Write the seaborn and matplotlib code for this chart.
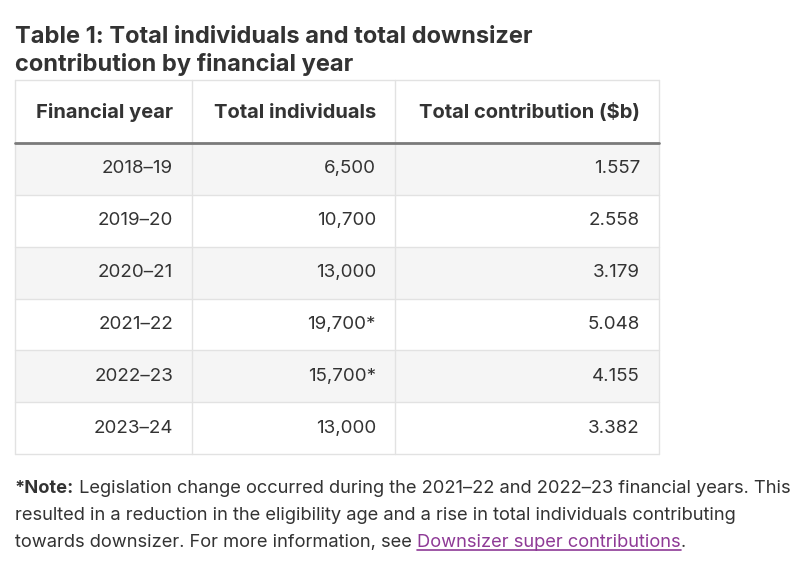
import matplotlib.pyplot as plt
import seaborn as sns
from matplotlib.patches import Rectangle

sns.set_theme(style="white")
plt.rcParams['font.family'] = ['Inter', 'DejaVu Sans']

# table data
headers = ["Financial year", "Total individuals", "Total contribution ($b)"]
years = ["2018–19", "2019–20", "2020–21", "2021–22", "2022–23", "2023–24"]
individuals = ["6,500", "10,700", "13,000", "19,700*", "15,700*", "13,000"]
contributions = [1.557, 2.558, 3.179, 5.048, 4.155, 3.382]

title = "Table 1: Total individuals and total downsizer\ncontribution by financial year"

text_col = "#333333"
grid_col = "#e2e2e2"
stripe = "#f5f5f5"

fig = plt.figure(figsize=(7.95, 5.62), dpi=100)
ax = fig.add_axes([0, 0, 1, 1])
ax.set_xlim(0, 795)
ax.set_ylim(562, 0)
ax.axis("off")

col_edges = [15, 192, 395, 659]
top, head_bot = 80, 143
row_h = (454 - head_bot) / len(years)

# title
t1, t2 = title.split("\n")
ax.text(15, 43, t1, fontsize=17, fontweight="bold", color=text_col, va="baseline")
ax.text(15, 71, t2, fontsize=17, fontweight="bold", color=text_col, va="baseline")

# row backgrounds
for i in range(len(years)):
    y0 = head_bot + i * row_h
    fc = stripe if i % 2 == 0 else "white"
    ax.add_patch(Rectangle((col_edges[0], y0), col_edges[-1] - col_edges[0], row_h,
                           facecolor=fc, edgecolor="none", zorder=0))
    if i > 0:
        ax.plot([col_edges[0], col_edges[-1]], [y0, y0], color=grid_col, lw=1, zorder=1)

bottom = head_bot + len(years) * row_h
# outer border and column lines
ax.plot([col_edges[0], col_edges[-1]], [top, top], color=grid_col, lw=1)
ax.plot([col_edges[0], col_edges[-1]], [bottom, bottom], color=grid_col, lw=1)
for x in col_edges:
    ax.plot([x, x], [top, bottom], color=grid_col, lw=1, zorder=1)
ax.plot([col_edges[0], col_edges[-1]], [head_bot, head_bot], color="#7a7a7a", lw=2, zorder=2)

# header
pad = 19
for j, h in enumerate(headers):
    ax.text(col_edges[j + 1] - pad, (top + head_bot) / 2 + 1, h, ha="right", va="center",
            fontsize=14.5, fontweight="bold", color=text_col)

# body
for i, (yr, ind, con) in enumerate(zip(years, individuals, contributions)):
    yc = head_bot + (i + 0.5) * row_h
    for j, v in enumerate([yr, ind, f"{con:.3f}"]):
        ax.text(col_edges[j + 1] - pad, yc, v, ha="right", va="center",
                fontsize=13.5, color=text_col)

# note
nsize = 13.2
n1 = ax.text(15, 493, "*Note:", fontsize=nsize, fontweight="bold", color=text_col,
             va="baseline")
ax.annotate(" Legislation change occurred during the 2021–22 and 2022–23 financial years. This",
            xy=(1, 0), xycoords=n1, va="bottom", fontsize=nsize, color=text_col)
ax.text(15, 520, "resulted in a reduction in the eligibility age and a rise in total individuals contributing",
        fontsize=nsize, color=text_col, va="baseline")
n3 = ax.text(15, 547, "towards downsizer. For more information, see ", fontsize=nsize,
             color=text_col, va="baseline")
link = ax.annotate("Downsizer super contributions", xy=(1, 0), xycoords=n3, va="bottom",
                   fontsize=nsize, color="#8e3a96")
ax.annotate(".", xy=(1, 0), xycoords=link, va="bottom", fontsize=nsize, color=text_col)

# underline the link
fig.canvas.draw()
bb = link.get_window_extent().transformed(ax.transData.inverted())
ax.plot([bb.x0, bb.x1], [549.5, 549.5], color="#8e3a96", lw=1.2)

fig.savefig("out.png", dpi=100)
